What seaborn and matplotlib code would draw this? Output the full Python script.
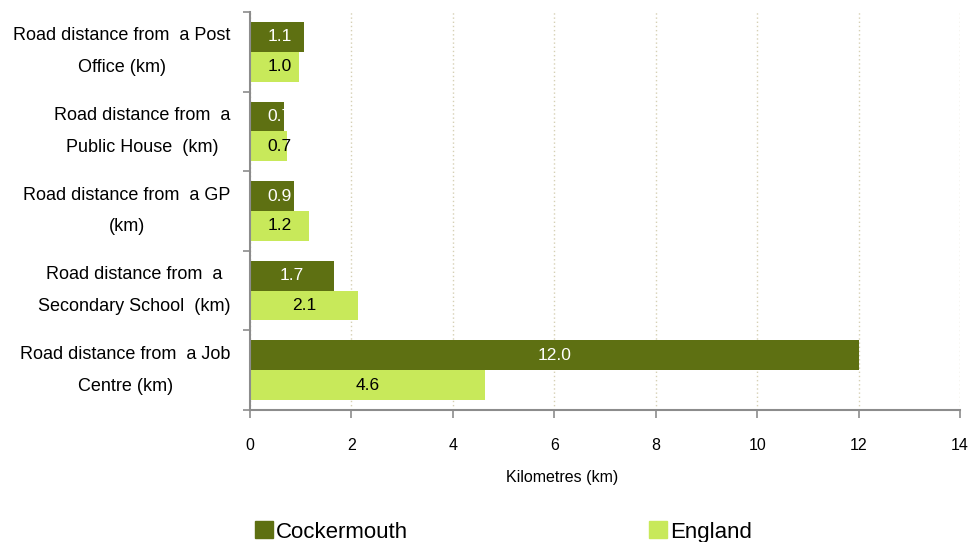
import pandas as pd
import matplotlib
matplotlib.use("Agg")
import matplotlib.pyplot as plt
from matplotlib.ticker import FixedLocator
import seaborn as sns

# values (bar lengths), labels shown to 1 d.p.
categories = [
    "Road distance from  a Post\nOffice (km)",
    "Road distance from  a\nPublic House  (km)",
    "Road distance from  a GP\n(km)",
    "Road distance from  a\nSecondary School  (km)",
    "Road distance from  a Job\nCentre (km)",
]
cockermouth = [1.07, 0.68, 0.87, 1.66, 12.0]
england = [0.96, 0.72, 1.16, 2.13, 4.64]
series = ["Cockermouth", "England"]
colors = ["#5E7012", "#C8E95A"]

df = pd.DataFrame({
    "Category": categories * 2,
    "Value": cockermouth + england,
    "Series": [series[0]] * len(categories) + [series[1]] * len(categories),
})

sns.set_theme(style="white")
plt.rcParams["font.family"] = ["Liberation Sans", "DejaVu Sans"]
plt.rcParams["text.color"] = "black"
plt.rcParams["xtick.color"] = "black"
plt.rcParams["ytick.color"] = "black"
plt.rcParams["axes.labelcolor"] = "black"

fig = plt.figure(figsize=(9.71, 5.42), dpi=100)
ax = fig.add_axes([250 / 971, 1 - 410 / 542, 710 / 971, 398 / 542])

sns.barplot(data=df, y="Category", x="Value", hue="Series", orient="h",
            palette=colors, width=0.75, saturation=1, ax=ax, legend=False,
            linewidth=0)

ax.set_xlim(0, 14)
ax.set_ylim(4.5, -0.5)
ax.set_xticks(range(0, 15, 2))
ax.tick_params(axis="x", length=6, width=1.2, color="#8c8c8c", direction="out",
               labelsize=11.5, pad=14, bottom=True)
ax.tick_params(axis="y", which="major", length=0, labelsize=13, pad=14)
ax.yaxis.set_minor_locator(FixedLocator([-0.5, 0.5, 1.5, 2.5, 3.5, 4.5]))
ax.tick_params(axis="y", which="minor", length=5, width=1.2, color="#8c8c8c",
               direction="out", left=True)
for lbl in ax.get_yticklabels():
    lbl.set_multialignment("center")
    lbl.set_verticalalignment("center")
    lbl.set_linespacing(2.15)

ax.grid(axis="x", linestyle=(0, (1, 2)), color="#d6d0b4", linewidth=1)
ax.set_axisbelow(True)
for side in ["top", "right"]:
    ax.spines[side].set_visible(False)
for side in ["left", "bottom"]:
    ax.spines[side].set_color("#8c8c8c")
    ax.spines[side].set_linewidth(1.5)

ax.set_ylabel("")
ax.set_xlabel("Kilometres (km)", fontsize=11.5)
ax.xaxis.set_label_coords(0.44, -0.15)

# value labels centred in bars (kept clear of the axis), clipped to the bar
for cont, tcol in zip(ax.containers, ["white", "black"]):
    for bar in cont:
        w = bar.get_width()
        t = ax.text(max(w / 2, 0.58), bar.get_y() + bar.get_height() / 2, f"{w:.1f}",
                    ha="center", va="center", color=tcol, fontsize=12.5)
        t.set_clip_path(bar)

handles = [plt.Rectangle((0, 0), 1, 1, color=c) for c in colors]
fig.legend(handles, series, loc="center left", bbox_to_anchor=(255 / 971, 1 - 532 / 542),
           ncol=2, frameon=False, fontsize=16, handlelength=0.8, handleheight=0.8,
           handletextpad=0.15, columnspacing=10.85, borderaxespad=0, borderpad=0)

fig.savefig("out.png", dpi=100)
